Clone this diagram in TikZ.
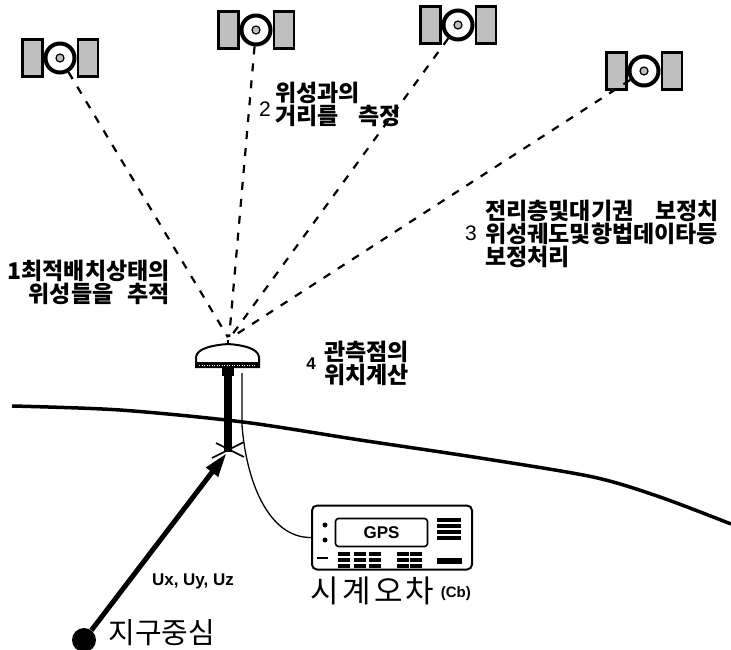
\documentclass[tikz,border=0pt]{standalone}
\usepackage{fontspec}
\setmainfont{Liberation Sans}
\newfontfamily\kr{Noto Sans CJK KR}
\newfontfamily\krwide[LetterSpace=11]{Noto Sans CJK KR}
\usetikzlibrary{arrows.meta,positioning}

\begin{document}
\begin{tikzpicture}[x=1pt,y=-1pt,
    every node/.style={inner sep=0pt},
    signal/.style={line width=2.2pt,dash pattern=on 8pt off 9pt}]
  \tikzstyle{satRing}=[circle,draw,line width=4pt,fill=white,minimum size=29pt]
  \tikzstyle{satCore}=[circle,draw,line width=1.2pt,fill=gray!50,minimum size=8pt]
  \tikzstyle{satPanel}=[rectangle,draw,line width=2.5pt,fill=gray!50,minimum width=20pt,minimum height=37pt]
  \tikzstyle{krLabel}=[font=\kr\bfseries\fontsize{23}{20}\selectfont,align=left,anchor=north west]
  \tikzstyle{numLabel}=[font=\fontsize{21}{21}\selectfont]

  \useasboundingbox (0,0) rectangle (731,650);

  % satellites
  \foreach \n/\x/\y in {1/60/58, 2/256/30, 3/458/25, 4/644/71} {
    \node[satRing] (sat\n) at (\x,\y) {};
    \node[satCore] at (sat\n) {};
    \node[satPanel, left=0pt of sat\n] {};
    \node[satPanel, right=0pt of sat\n] {};
  }

  % receiver antenna
  \coordinate (ant) at (229,339);
  \coordinate (plug) at (242,373);
  \coordinate (foot) at (229,450);
  \foreach \n in {1,...,4}
    \draw[signal, shorten >=2pt] (sat\n) -- (ant);
  \draw[line width=2pt] (228,344) -- (228,340);
  \draw[line width=2pt,fill=white] (196,367) -- (196,357)
     .. controls (197,348) and (214,345) .. (228,344)
     .. controls (242,345) and (258,348) .. (259,357) -- (259,367) -- cycle;
  \fill (196,362) rectangle (259,368);
  \draw[white, line width=0.8pt, dash pattern=on 1pt off 1.5pt] (199,365) -- (256,365);
  \fill (222,368) rectangle (234,376);
  \fill (224,374) rectangle (232,452);
  \draw[line width=1.6pt] (212,458) -- (244,442) (216,443) -- (244,457);

  % ground
  \draw[line width=3.5pt] plot[smooth] coordinates {(12,406) (120,410) (243,422) (360,440)
     (480,458) (593,477) (660,497) (731,524)};

  % receiver unit
  \node[draw,line width=2pt,rounded corners=5pt,minimum width=160pt,minimum height=64pt] (gps) at (392,537.5) {};
  \node[draw,line width=1.6pt,rounded corners=3pt,minimum width=92pt,minimum height=28pt,
        font=\bfseries\fontsize{17}{17}\selectfont] (screen) at (381.5,532.5) {GPS};
  \foreach \bx in {344,360,375,403,416}
    \foreach \by in {554,560,566}
      \fill (\bx-6,\by-2) rectangle (\bx+6,\by+2);
  \foreach \by in {520,526,532,538}
    \fill (437,\by-2) rectangle (461,\by+2);
  \fill (437,558) rectangle (462,564);
  \fill (325,525) circle (2.5) (325,540) circle (2.5);
  \draw[line width=2.5pt] (317,558) -- (328,558);
  \draw[line width=1.3pt] (plug) -- (242,425) .. controls (246,480) and (268,538) .. (gps.west);

  \node[font=\krwide\fontsize{31}{31}\selectfont, anchor=north west]
     (clk) at ([xshift=-1pt,yshift=-6pt]gps.south west) {시계오차};
  \node[font=\bfseries\fontsize{15}{15}\selectfont, right=6pt of clk, yshift=-3pt] (cb) {(Cb)};

  % earth centre and position vector
  \node[circle,fill,minimum size=24pt] (geo) at (84,640) {};
  \node[font=\kr\fontsize{29}{29}\selectfont, right=12pt of geo, yshift=7pt] (geoname) {지구중심};
  \draw[line width=5pt,-{Triangle[length=24pt,width=14pt]}, shorten >=4pt] (geo) -- (foot)
     node[pos=0.27, right=21pt, font=\bfseries\fontsize{17}{17}\selectfont] (vec) {Ux, Uy, Uz};

  % steps
  \node[krLabel, align=right, anchor=north east] (track) at (170,260) {1최적배치상태의\\위성들을\hspace{14pt}추적};
  \node[krLabel] (range) at (275,82) {위성과의\\거리를\hspace{20pt}측정};
  \node[numLabel, left=4pt of range, yshift=-5pt] {2};
  \node[krLabel] (corr) at (485,200) {전리층및대기권\hspace{22pt}보정치\\위성궤도및항법데이타등\\보정처리};
  \node[numLabel, left=8pt of corr] {3};
  \node[krLabel] (fix) at (324,341) {관측점의\\위치계산};
  \node[font=\bfseries\fontsize{17}{17}\selectfont, left=8pt of fix] {4};
\end{tikzpicture}
\end{document}
